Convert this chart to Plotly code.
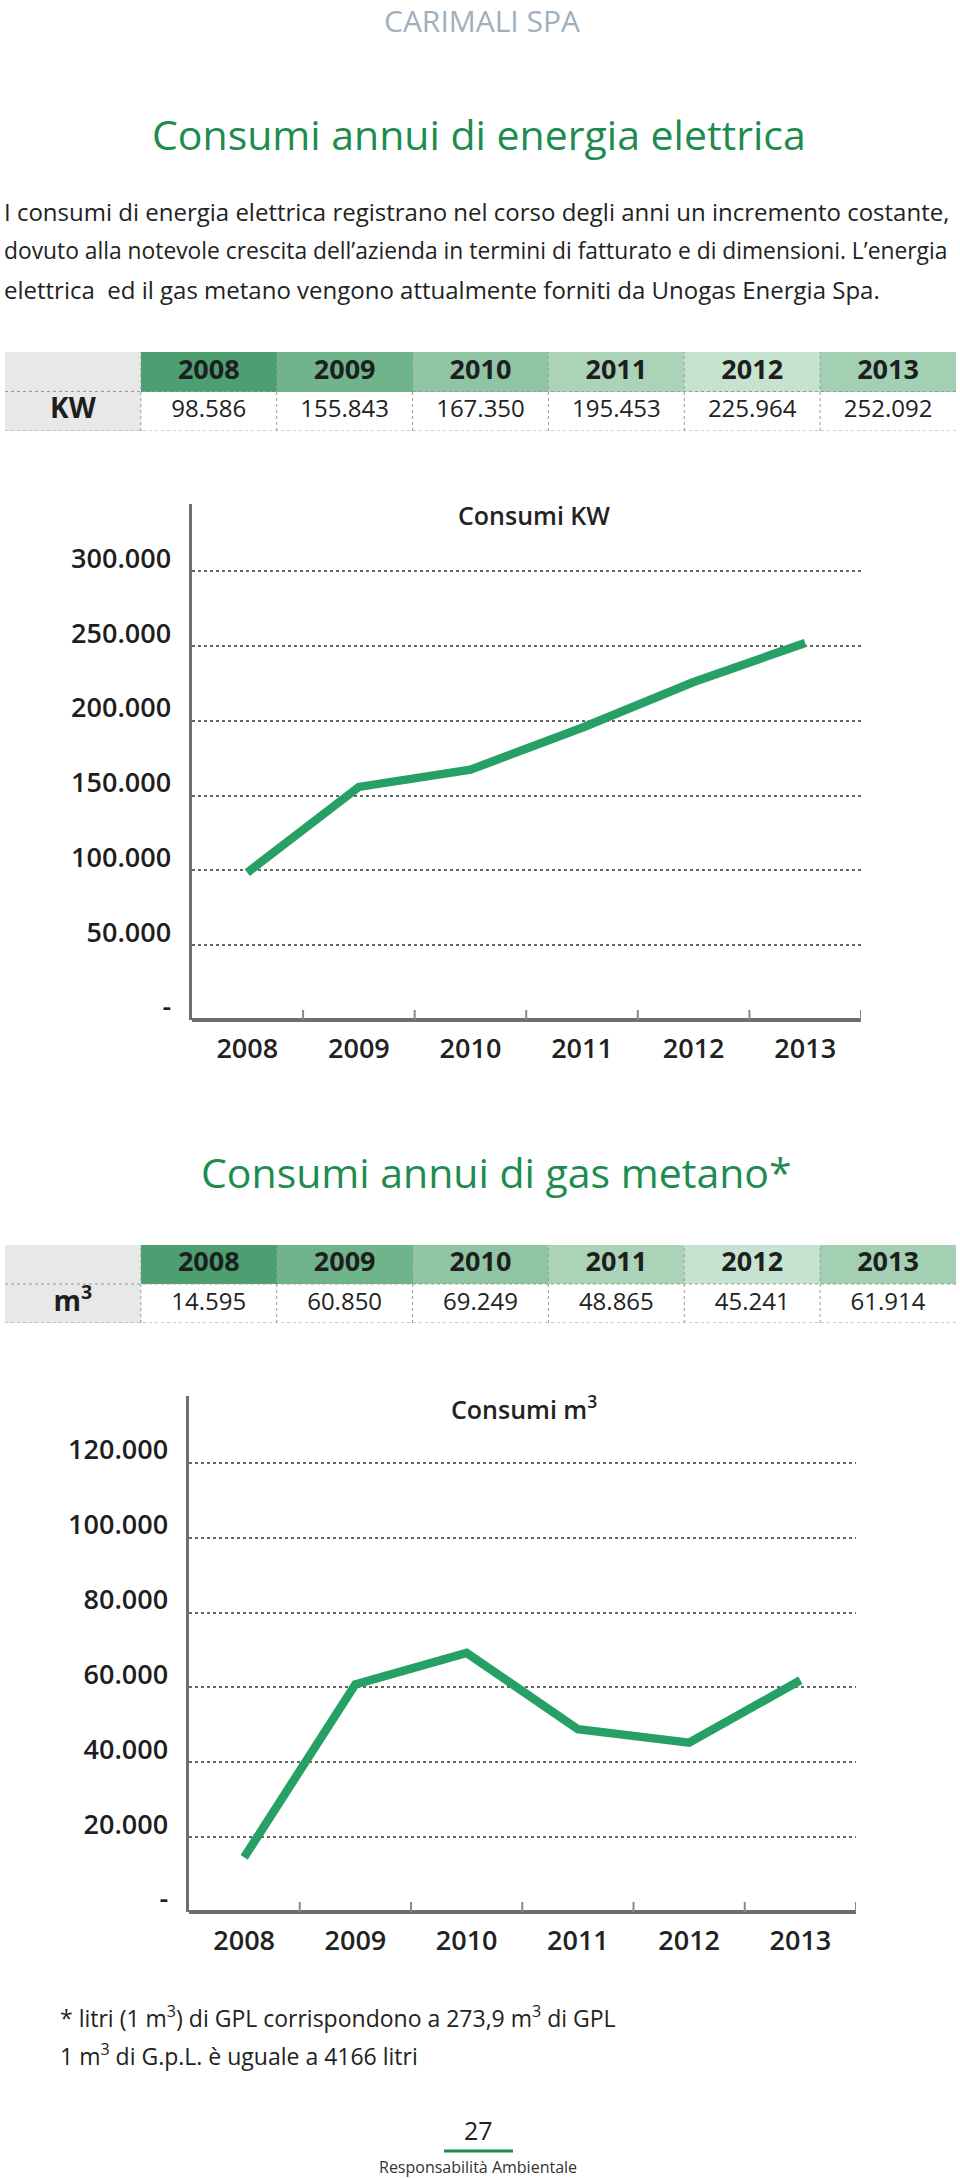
import plotly.graph_objects as go

W, H = 960, 2178

# ---------------- data ----------------
years = ["2008", "2009", "2010", "2011", "2012", "2013"]
kw_values = [98586, 155843, 167350, 195453, 225964, 252092]
kw_labels = ["98.586", "155.843", "167.350", "195.453", "225.964", "252.092"]
gas_values = [14595, 60850, 69249, 48865, 45241, 61914]
gas_labels = ["14.595", "60.850", "69.249", "48.865", "45.241", "61.914"]
kw_tickvals = [0, 50000, 100000, 150000, 200000, 250000, 300000]
kw_ticktext = ["-", "50.000", "100.000", "150.000", "200.000", "250.000", "300.000"]
gas_tickvals = [0, 20000, 40000, 60000, 80000, 100000, 120000]
gas_ticktext = ["-", "20.000", "40.000", "60.000", "80.000", "100.000", "120.000"]

header_fill = ["#e8e8e8", "#4b9f70", "#6fb48b", "#8fc5a3", "#aad3b7", "#c6e3cf", "#a3d0b2"]
row_fill = ["#e8e8e8", "white", "white", "white", "white", "white", "white"]
GREEN = "#1d8c4e"
LINE_GREEN = "#27a065"
AXIS_GRAY = "#6e6e6e"
TICK_GRAY = "#7c8b9a"
FONT = "Open Sans"


def px(x):
    return x / W


def py(y):
    return 1 - y / H


fig = go.Figure()
shapes = []
layout_axes = {}


# ---------------- tables (bars as cells on their own axes) ----------------
def add_table(n, top, bottom, unit_label, labels):
    xa, ya = "x%d" % n, "y%d" % n
    cols = list(range(len(years) + 1))
    # header row (upper half) and value row (lower half)
    fig.add_trace(go.Bar(x=cols, y=[1] * len(cols), base=[1] * len(cols), width=1,
                         marker=dict(color=header_fill, line=dict(width=0)),
                         xaxis=xa, yaxis=ya, hoverinfo="skip", showlegend=False))
    fig.add_trace(go.Bar(x=cols, y=[1] * len(cols), base=[0] * len(cols), width=1,
                         marker=dict(color=row_fill, line=dict(width=0)),
                         xaxis=xa, yaxis=ya, hoverinfo="skip", showlegend=False))
    fig.add_trace(go.Scatter(x=cols[1:], y=[1.5] * len(years), text=years, mode="text",
                             textposition="middle center",
                             textfont=dict(family=FONT, size=27, color="#1e1e1e", weight=700),
                             xaxis=xa, yaxis=ya, hoverinfo="skip", showlegend=False))
    fig.add_trace(go.Scatter(x=cols[1:], y=[0.5] * len(years), text=labels, mode="text",
                             textposition="middle center",
                             textfont=dict(family=FONT, size=24, color="#222222"),
                             xaxis=xa, yaxis=ya, hoverinfo="skip", showlegend=False))
    fig.add_trace(go.Scatter(x=[0], y=[0.5], text=[unit_label], mode="text",
                             textposition="middle center",
                             textfont=dict(family=FONT, size=28, color="#1e1e1e", weight=700),
                             xaxis=xa, yaxis=ya, hoverinfo="skip", showlegend=False))
    ax = dict(visible=False, fixedrange=True, showgrid=False, zeroline=False, automargin=False)
    layout_axes["xaxis%d" % n] = dict(ax, domain=[px(5), px(956)], anchor=ya,
                                       range=[-0.5, len(years) + 0.5])
    layout_axes["yaxis%d" % n] = dict(ax, domain=[py(bottom), py(top)], anchor=xa,
                                       range=[0, 2])
    dot = dict(color="#9a9a9a", width=1, dash="dot")
    for yy in (0, 1):
        shapes.append(dict(type="line", xref="%s domain" % xa, yref=ya, x0=0, x1=1,
                           y0=yy, y1=yy, line=dot, layer="above"))
    for c in cols[:-1]:
        shapes.append(dict(type="line", xref=xa, yref=ya, x0=c + 0.5, x1=c + 0.5,
                           y0=0, y1=2, line=dot, layer="above"))


add_table(3, 352, 431, "KW", kw_labels)
add_table(4, 1245, 1323, "m<sup>3</sup>", gas_labels)

# ---------------- line charts ----------------
fig.add_trace(go.Scatter(x=years, y=kw_values, mode="lines", xaxis="x", yaxis="y",
                         line=dict(color=LINE_GREEN, width=8.5), hoverinfo="skip",
                         showlegend=False))
fig.add_trace(go.Scatter(x=years, y=gas_values, mode="lines", xaxis="x2", yaxis="y2",
                         line=dict(color=LINE_GREEN, width=8.5), hoverinfo="skip",
                         showlegend=False))


def xaxis_cfg(x0, x1, anchor):
    return dict(domain=[px(x0), px(x1)], anchor=anchor, type="category",
                range=[-0.5, len(years) - 0.5], showline=False, showgrid=False,
                zeroline=False, ticks="", automargin=False,
                tickfont=dict(family=FONT, size=27, color="#222222", weight=600),
                ticklabelstandoff=10, fixedrange=True)


def yaxis_cfg(top, bottom, anchor, rng, tv, tt):
    return dict(domain=[py(bottom), py(top)], anchor=anchor, range=rng,
                tickvals=tv, ticktext=tt, showline=True, linecolor=AXIS_GRAY,
                linewidth=3, showgrid=True, gridcolor="#666666", gridwidth=1.5,
                griddash="dot", zeroline=True, zerolinecolor=AXIS_GRAY,
                zerolinewidth=4, ticks="", automargin=False,
                tickfont=dict(family=FONT, size=27, color="#1e1e1e", weight=600),
                ticklabelshift=-13, ticklabelstandoff=12, fixedrange=True)


# boundary ticks crossing the x axis
for xa, ya in (("x", "y"), ("x2", "y2")):
    for i in range(len(years)):
        shapes.append(dict(type="line", xref=xa, yref=ya, ysizemode="pixel", yanchor=0,
                           x0=i + 0.5, x1=i + 0.5, y0=-11, y1=10,
                           line=dict(color=TICK_GRAY, width=2), layer="above"))

# page decoration under the page number
shapes.append(dict(type="line", xref="paper", yref="paper", x0=px(444), x1=px(513),
                   y0=py(2151), y1=py(2151), line=dict(color=GREEN, width=3)))


def ann(text, x, y, size, color="#222222", xanchor="center", weight=None, family=FONT):
    f = dict(family=family, size=size, color=color)
    if weight:
        f["weight"] = weight
    return dict(text=text, x=px(x), y=py(y), xref="paper", yref="paper",
                xanchor=xanchor, yanchor="middle", showarrow=False, font=f)


annotations = [
    ann("CARIMALI SPA", 482, 20, 30, color="#9eb0c0"),
    ann("Consumi annui di energia elettrica", 479, 134, 41, color=GREEN),
    ann("I consumi di energia elettrica registrano nel corso degli anni un incremento costante,",
        2, 211, 24, xanchor="left"),
    ann("dovuto alla notevole crescita dell’azienda in termini di fatturato e di dimensioni. L’energia",
        2, 250, 22.8, xanchor="left"),
    ann("elettrica  ed il gas metano vengono attualmente forniti da Unogas Energia Spa.",
        2, 289, 24, xanchor="left"),
    ann("Consumi KW", 534, 515, 25, weight=600),
    ann("Consumi annui di gas metano*", 496, 1172, 41, color=GREEN),
    ann("Consumi m<sup>3</sup>", 524, 1407, 25, weight=600),
    ann("* litri (1 m<sup>3</sup>) di GPL corrispondono a 273,9 m<sup>3</sup> di GPL",
        58, 2017, 23, xanchor="left"),
    ann("1 m<sup>3</sup> di G.p.L. è uguale a 4166 litri", 58, 2055, 23, xanchor="left"),
    ann("27", 478, 2130, 25),
    ann("Responsabilità Ambientale", 478, 2167, 16, color="#333333"),
]

fig.update_layout(
    width=W, height=H,
    margin=dict(l=0, r=0, t=0, b=0, autoexpand=False),
    paper_bgcolor="white", plot_bgcolor="white",
    showlegend=False,
    barmode="overlay", bargap=0,
    xaxis=xaxis_cfg(191.5, 861, "y"),
    yaxis=yaxis_cfg(504, 1020, "x", [0, 345000], kw_tickvals, kw_ticktext),
    xaxis2=xaxis_cfg(188.5, 856, "y2"),
    yaxis2=yaxis_cfg(1396, 1912, "x2", [0, 137900], gas_tickvals, gas_ticktext),
    shapes=shapes,
    annotations=annotations,
    **layout_axes,
)

fig.write_html("out.html")
